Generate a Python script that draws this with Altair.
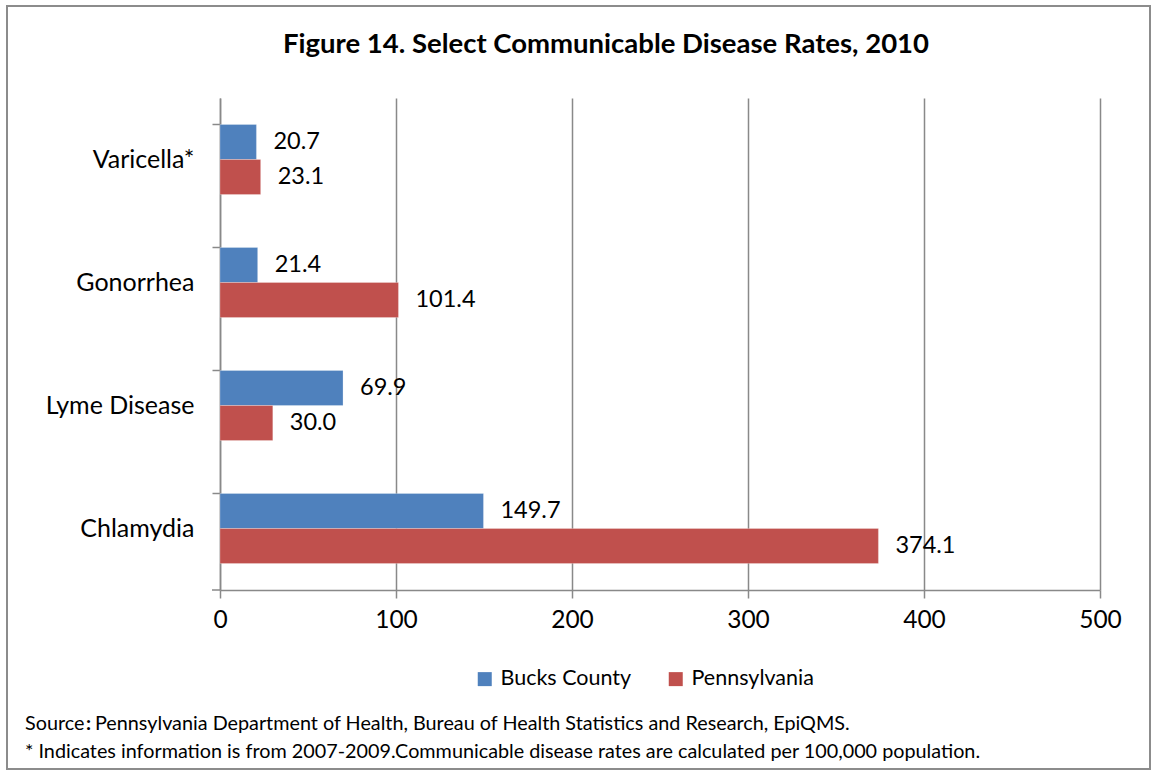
import altair as alt
import pandas as pd

# Rates per 100,000 population
diseases = ["Varicella*", "Gonorrhea", "Lyme Disease", "Chlamydia"]
areas = ["Bucks County", "Pennsylvania"]
bucks_rates = [20.7, 21.4, 69.9, 149.7]
pa_rates = [23.1, 101.4, 30.0, 374.1]
x_ticks = [0, 100, 200, 300, 400, 500]
area_colors = ["#4F81BD", "#C0504D"]

title_text = "Figure 14. Select Communicable Disease Rates, 2010"
source_label = "Source"
source_colon = ":"
source_text = "Pennsylvania Department of Health, Bureau of Health Statistics and Research, EpiQMS."
note_text = "* Indicates information is from 2007-2009.Communicable disease rates are calculated per 100,000 population."

rows = []
for d, b, p in zip(diseases, bucks_rates, pa_rates):
    rows.append({"disease": d, "area": areas[0], "rate": b})
    rows.append({"disease": d, "area": areas[1], "rate": p})
df = pd.DataFrame(rows)

# one-row table for the decorations so each is drawn once
single = pd.DataFrame({"k": [0]})

FONT = "Lato"
GRID = "#898989"
W, H = 880, 492

y_enc = alt.Y(
    "disease:N",
    sort=diseases,
    scale=alt.Scale(paddingInner=0.43, paddingOuter=0.215),
    axis=alt.Axis(
        title=None,
        bandPosition=0,
        tickSize=8,
        tickColor=GRID,
        tickWidth=1.5,
        domainColor=GRID,
        domainWidth=1.5,
        labelFontSize=25,
        labelFont=FONT,
        labelColor="black",
        labelPadding=18,
    ),
)
x_enc = alt.X(
    "rate:Q",
    scale=alt.Scale(domain=[0, 500], nice=False),
    axis=alt.Axis(
        title=None,
        values=x_ticks,
        grid=True,
        gridColor=GRID,
        gridWidth=1.5,
        tickSize=8,
        tickColor=GRID,
        tickWidth=1.5,
        domainColor=GRID,
        domainWidth=1.5,
        labelFontSize=24.5,
        labelFont=FONT,
        labelColor="black",
        labelPadding=10,
        labelFlush=False,
    ),
)
yoff = alt.YOffset("area:N", sort=areas)

bars = alt.Chart(df).mark_bar(stroke="white", strokeWidth=0.5, strokeOpacity=0.5).encode(
    y=y_enc,
    x=x_enc,
    yOffset=yoff,
    color=alt.Color(
        "area:N",
        sort=areas,
        scale=alt.Scale(domain=areas, range=area_colors),
        legend=alt.Legend(
            title=None,
            orient="none",
            direction="horizontal",
            legendX=254,
            legendY=570,
            symbolType="square",
            symbolSize=196,
            symbolStrokeWidth=0,
            labelFontSize=21.5,
            labelFont=FONT,
            labelColor="black",
            labelOffset=5,
            columnPadding=33,
        ),
    ),
)

labels = alt.Chart(df).mark_text(
    align="left", baseline="middle", dx=17, fontSize=23.5, font=FONT, color="black"
).encode(
    y=alt.Y("disease:N", sort=diseases),
    x=alt.X("rate:Q"),
    yOffset=yoff,
    text=alt.Text("rate:Q", format=".1f"),
)

# closing tick at the bottom of the category axis
end_tick = alt.Chart(single).mark_rule(color=GRID, strokeWidth=1.5).encode(
    x=alt.value(-8), x2=alt.value(0), y=alt.value(H)
)

# outer frame around the whole figure
frame = alt.Chart(single).mark_rect(fill=None, stroke="#8C8C8C", strokeWidth=2).encode(
    x=alt.value(-213), x2=alt.value(930), y=alt.value(-92), y2=alt.value(671)
)

heading = alt.Chart(single).mark_text(
    align="center", baseline="middle", fontSize=27.5, font=FONT, fontWeight="bold", color="black"
).encode(x=alt.value(386), y=alt.value(-53), text=alt.value(title_text))

foot_style = dict(align="left", baseline="middle", fontSize=19.8, font=FONT, color="black")
source_word = alt.Chart(single).mark_text(fontWeight="normal", **foot_style).encode(
    x=alt.value(-195), y=alt.value(626), text=alt.value(source_label)
)
source_mark = alt.Chart(single).mark_text(fontWeight="bold", **foot_style).encode(
    x=alt.value(-134), y=alt.value(626), text=alt.value(source_colon)
)
source_rest = alt.Chart(single).mark_text(fontWeight="normal", **foot_style).encode(
    x=alt.value(-125), y=alt.value(626), text=alt.value(source_text)
)
note = alt.Chart(single).mark_text(fontWeight="normal", **foot_style).encode(
    x=alt.value(-195), y=alt.value(654), text=alt.value(note_text)
)

chart = (
    alt.layer(frame, bars, labels, end_tick, heading, source_word, source_mark, source_rest, note)
    .properties(
        width=W,
        height=H,
        autosize=alt.AutoSizeParams(type="none"),
        padding={"left": 220, "top": 98, "right": 52, "bottom": 182},
        background="white",
    )
    .configure_view(strokeWidth=0)
)

chart.save("out.html", embed_options={"renderer": "svg", "actions": False})
